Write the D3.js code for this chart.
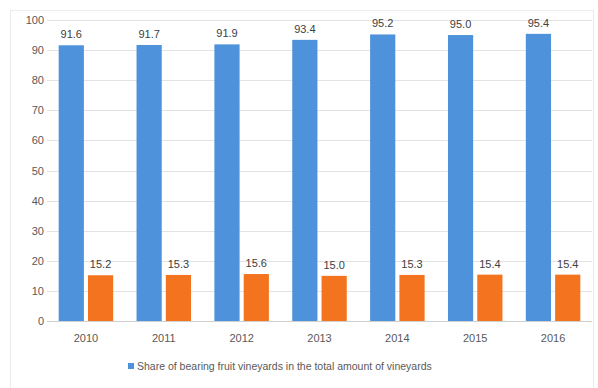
<!DOCTYPE html>
<html>
<head>
<meta charset="utf-8">
<script src="https://cdn.jsdelivr.net/npm/d3@7"></script>
<style>
  body { margin: 0; background: #fff; }
  text { font-family: "Liberation Sans", "DejaVu Sans", sans-serif; }
</style>
</head>
<body>
<div id="chart"></div>
<script>
// chart values
var years = ['2010', '2011', '2012', '2013', '2014', '2015', '2016'];
var shareBearing = [91.6, 91.7, 91.9, 93.4, 95.2, 95.0, 95.4];
var otherShare = [15.2, 15.3, 15.6, 15.0, 15.3, 15.4, 15.4];
var yTicks = [0, 10, 20, 30, 40, 50, 60, 70, 80, 90, 100];
var legendLabel = 'Share of bearing fruit vineyards in the total amount of vineyards';

var width = 598, height = 388;
// plot area edges (window.top is reserved, so prefixed names)
var plotLeft = 47, plotRight = 592, plotTop = 20, plotBottom = 321;

var svg = d3.select('#chart').append('svg')
  .attr('width', width)
  .attr('height', height);

// faint chart border
svg.append('rect')
  .attr('x', 10.5).attr('y', 10.5)
  .attr('width', 583).attr('height', 400)
  .attr('fill', 'none')
  .attr('stroke', '#ececec');

var y = d3.scaleLinear().domain([0, 100]).range([plotBottom, plotTop]);

var x0 = d3.scaleBand()
  .domain(years)
  .range([plotLeft, plotRight])
  .paddingInner(0.3)
  .paddingOuter(0.15);

var x1 = d3.scaleBand()
  .domain(['a', 'b'])
  .range([0, x0.bandwidth()])
  .paddingInner(0.14);

// gridlines
svg.append('g')
  .selectAll('line')
  .data(yTicks)
  .enter()
  .append('line')
  .attr('x1', plotLeft)
  .attr('x2', plotRight)
  .attr('y1', function(d) { return Math.round(y(d)) + 0.5; })
  .attr('y2', function(d) { return Math.round(y(d)) + 0.5; })
  .attr('stroke', function(d) { return d === 0 ? '#d0d0d0' : '#e3e3e3'; })
  .attr('stroke-width', 1);

// y axis labels
var yAxis = svg.append('g')
  .attr('transform', 'translate(' + (plotLeft - 3) + ',0)')
  .call(d3.axisLeft(y).tickValues(yTicks).tickSize(0).tickPadding(0));
yAxis.select('.domain').remove();
yAxis.selectAll('text')
  .attr('fill', '#595959')
  .style('font-size', '11px');

// x axis labels
var xAxis = svg.append('g')
  .attr('transform', 'translate(0,' + (plotBottom + 13) + ')')
  .call(d3.axisBottom(x0).tickSize(0).tickPadding(0));
xAxis.select('.domain').remove();
xAxis.selectAll('text')
  .attr('fill', '#595959')
  .style('font-size', '11px');

var rows = years.map(function(yr, i) {
  return { year: yr, a: shareBearing[i], b: otherShare[i] };
});

var colors = { a: '#4d92da', b: '#f4731f' };

var groups = svg.append('g')
  .selectAll('g')
  .data(rows)
  .enter()
  .append('g')
  .attr('transform', function(d) { return 'translate(' + x0(d.year) + ',0)'; });

var bars = groups.selectAll('rect')
  .data(function(d) { return [{ key: 'a', value: d.a }, { key: 'b', value: d.b }]; })
  .enter();

bars.append('rect')
  .attr('x', function(d) { return x1(d.key); })
  .attr('y', function(d) { return y(d.value); })
  .attr('width', x1.bandwidth())
  .attr('height', function(d) { return y(0) - y(d.value); })
  .attr('fill', function(d) { return colors[d.key]; });

bars.append('text')
  .attr('x', function(d) { return x1(d.key) + x1.bandwidth() / 2; })
  .attr('y', function(d) { return y(d.value) - 7; })
  .attr('text-anchor', 'middle')
  .attr('fill', '#404040')
  .style('font-size', '11px')
  .text(function(d) { return d.value.toFixed(1); });

// legend
var legend = svg.append('g').attr('transform', 'translate(128,366)');
legend.append('rect')
  .attr('x', 0).attr('y', -3)
  .attr('width', 6).attr('height', 6)
  .attr('fill', colors.a);
legend.append('text')
  .attr('x', 9).attr('y', 4)
  .attr('fill', '#595959')
  .style('font-size', '10.5px')
  .text(legendLabel);
</script>
</body>
</html>
